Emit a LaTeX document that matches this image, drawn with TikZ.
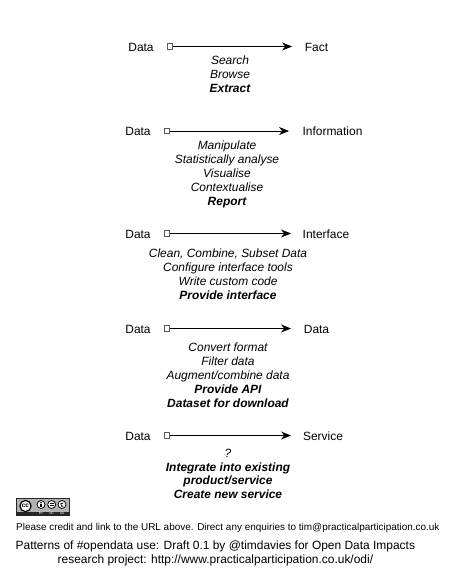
\documentclass[tikz,border=0pt]{standalone}
\usepackage{fontspec}
\setmainfont{Liberation Sans}
\usetikzlibrary{arrows.meta}
\tikzset{
 lab/.style={inner sep=0pt,anchor=center,font=\fontsize{12}{14}\selectfont},
 act/.style={inner sep=0pt,align=center,anchor=north,font=\fontsize{12}{14}\selectfont\itshape},
 srcbox/.style={draw=black!65,fill=white,line width=.9pt,minimum size=5.5bp,inner sep=0pt},
 flow/.style={line width=.8pt,-{Stealth[length=10pt,width=8pt]}},
 ccring/.style={draw=black,fill=white,line width=.8pt},
 footsmall/.style={inner sep=0pt,anchor=west,font=\fontsize{9.98}{11}\selectfont},
 footbig/.style={inner sep=0pt,anchor=west,font=\fontsize{12}{14}\selectfont}
}
\newcommand{\bi}[1]{\textbf{\textit{#1}}}
\begin{document}
\begin{tikzpicture}[x=1bp,y=-1bp]
\useasboundingbox (0,0) rectangle (460,579);
\fill[white] (0,0) rectangle (460,579);
% row 1
\node[lab] (d1) at (141,47) {Data};
\node[srcbox] (s1) at (170,46.5) {};
\node[lab] (t1) at (316.5,47) {Fact};
\coordinate (e1) at (292,46.5);
\draw[flow] (s1) -- (e1);
\node[act] (a1) at (230,55.5) {Search\\Browse\\\bi{Extract}};
% row 2
\node[lab] (d2) at (138,131) {Data};
\node[srcbox] (s2) at (167,131) {};
\node[lab] (t2) at (332.5,131) {Information};
\coordinate (e2) at (289,131);
\draw[flow] (s2) -- (e2);
\node[act] (a2) at (227,140.5) {Manipulate\\Statistically analyse\\Visualise\\Contextualise\\\bi{Report}};
% row 3
\node[lab] (d3) at (138,234) {Data};
\node[srcbox] (s3) at (167,233.5) {};
\node[lab] (t3) at (326,234) {Interface};
\coordinate (e3) at (291,233.5);
\draw[flow] (s3) -- (e3);
\node[act] (a3) at (228,249) {Clean, Combine, Subset Data\\Configure interface tools\\Write custom code\\\bi{Provide interface}};
% row 4
\node[lab] (d4) at (138,329) {Data};
\node[srcbox] (s4) at (167,328.5) {};
\node[lab] (t4) at (316.5,329) {Data};
\coordinate (e4) at (291,328.5);
\draw[flow] (s4) -- (e4);
\node[act] (a4) at (228,343) {Convert format\\Filter data\\Augment/combine data\\\bi{Provide API}\\\bi{Dataset for download}};
% row 5
\node[lab] (d5) at (138,436) {Data};
\node[srcbox] (s5) at (167,435.5) {};
\node[lab] (t5) at (323,436) {Service};
\coordinate (e5) at (291,435.5);
\draw[flow] (s5) -- (e5);
\node[act] (a5) at (228,448.5) {?\\\bi{Integrate into existing}\\\bi{product/service}\\\bi{Create new service}};
% cc badge
\fill[black!85] (16,498) rectangle (70,516);
\fill[black!30] (17,499) rectangle (69,511.5);
\draw[ccring,line width=1.2pt] (25.5,506) circle (5.6);
\node[inner sep=0pt,font=\bfseries\fontsize{6.5}{7}\selectfont] (cc) at (25.5,505.8) {cc};
\draw[ccring] (41,504.5) circle (4);
\draw[ccring] (51.7,504.5) circle (4);
\draw[ccring] (62,504.5) circle (4);
\fill (41,502.8) circle (.9);
\fill (40,503.9) rectangle (42,507);
\draw[line width=.8pt] (49.5,503.8) -- (53.9,503.8) (49.5,505.3) -- (53.9,505.3);
\draw[line width=.8pt] (63.3,503) arc (-60:-300:1.8);
\node[inner sep=0pt,text=white,font=\fontsize{3.2}{3}\selectfont] (ccby) at (41,513.8) {BY};
\node[inner sep=0pt,text=white,font=\fontsize{3.2}{3}\selectfont] (ccnc) at (51.7,513.8) {NC};
\node[inner sep=0pt,text=white,font=\fontsize{3.2}{3}\selectfont] (ccsa) at (62,513.8) {SA};
% footer
\node[footsmall] (f1) at (16,527.5) {Please credit and link to the URL above. Direct any enquiries to tim@practicalparticipation.co.uk};
\node[footbig] (f2) at (15.5,546) {Patterns of \#opendata use: Draft 0.1 by @timdavies for Open Data Impacts};
\node[footbig] (f3) at (57.5,560.5) {research project: http://www.practicalparticipation.co.uk/odi/};
\end{tikzpicture}
\end{document}
